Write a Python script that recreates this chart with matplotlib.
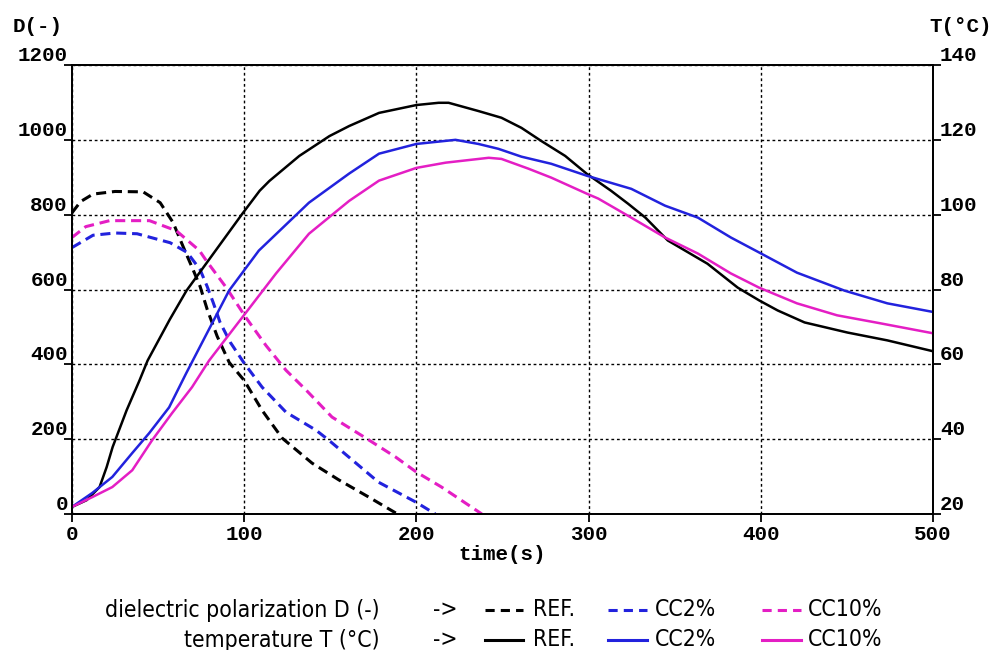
import matplotlib
matplotlib.use("Agg")
import matplotlib.pyplot as plt
from matplotlib.lines import Line2D

# ---------------- data ----------------
t_T_ref = [0, 8.5, 16, 20.1, 23.6, 31.7, 39.2, 43.9, 56.8, 66.5, 99, 109, 114.6, 132, 149.5, 161, 178.3, 200,
           212.9, 218.7, 236, 249.4, 261, 272.5, 286.4, 299, 313, 323, 333, 346, 369, 386.6, 399,
           409.8, 425.4, 450.3, 473.5, 500]
T_ref = [21.9, 23.7, 27.2, 32.5, 37.9, 47.7, 55.7, 61, 72, 79.7, 100.3, 106.4, 109, 115.7, 121, 123.7, 127.2, 129.3,
         129.9, 129.9, 127.7, 125.9, 123.2, 119.7, 115.7, 110.9, 106.4, 102.9, 99.2, 93.1, 86.9, 80.5, 77.1,
         74.4, 71.2, 68.5, 66.4, 63.5]

t_T_cc2 = [0, 11.7, 23.4, 35, 44.8, 56.4, 66.3, 91.2, 108.5, 137.6, 161, 178.3, 200, 222.7, 236, 247.6,
           261, 278.3, 299, 324.8, 344.4, 363.5, 382.6, 399, 421, 448.6, 473.5, 500]
T_cc2 = [21.9, 25.6, 29.9, 36.3, 41.6, 48.5, 57.6, 79.7, 90.4, 103.2, 111, 116.3, 118.9, 120, 118.9, 117.6,
         115.5, 113.6, 110.4, 106.9, 102.4, 99.2, 93.9, 89.9, 84.5, 79.7, 76.3, 74]

t_T_cc10 = [0, 11.7, 23.4, 35, 46.5, 58, 69.7, 79.6, 98.8, 118.5, 137.6, 161, 178.3, 200, 217, 242, 249.4,
            265, 278.3, 299, 305.6, 324.8, 344.4, 363.5, 382.6, 399, 421, 444.3, 469, 500]
T_cc10 = [21.9, 24.5, 27.2, 31.7, 39.7, 46.9, 53.9, 61, 72.5, 84.3, 94.9, 103.7, 109.1, 112.5, 113.9, 115.2,
          114.9, 112.3, 109.9, 105.6, 104.3, 99.2, 93.9, 89.6, 84.3, 80.5, 76.3, 73.1, 71, 68.3]

t_D_ref = [0, 5, 12.2, 25, 41.3, 51.2, 58.7, 64.5, 70.3, 74.4, 78.5, 84.3, 91.3, 100, 110.4, 122, 139.4,
           155, 172.4, 189]
D_ref = [805, 835, 855, 862, 861, 832, 779, 715, 653, 608, 547, 475, 405, 357, 277, 203, 136, 91, 45, 0]

t_D_cc2 = [0, 12.2, 25, 37.8, 57, 66.9, 74.4, 78.5, 82, 86, 91.9, 100, 110.4, 124.3, 141.7, 149.2, 160.8,
           178, 199.6, 211]
D_cc2 = [712, 745, 751, 749, 725, 699, 653, 608, 565, 512, 459, 403, 339, 272, 224, 197, 152, 85, 32, 0]

t_D_cc10 = [0, 8, 21.8, 45, 60.6, 74, 78, 89.6, 101, 112.7, 124.3, 136, 151, 170.6, 188, 200, 214.6, 238]
D_cc10 = [739, 768, 784, 784, 757, 704, 677, 605, 525, 450, 384, 331, 259, 203, 152, 112, 72, 0]

x_ticks = [0, 100, 200, 300, 400, 500]
D_ticks = [0, 200, 400, 600, 800, 1000, 1200]
T_ticks = [20, 40, 60, 80, 100, 120, 140]

BLACK = "#000000"
BLUE = "#2222dd"
MAGENTA = "#e41ec4"

W, H = 993, 650
fig = plt.figure(figsize=(W / 100, H / 100), dpi=100)
fig.patch.set_facecolor("white")

def px(x, y):
    return x / W, 1 - y / H

x0, x1, y0, y1 = 72, 933, 514, 65
ax = fig.add_axes([x0 / W, 1 - y0 / H, (x1 - x0) / W, (y0 - y1) / H])
ax2 = ax.twinx()

ax.set_xlim(0, 500)
ax.set_ylim(0, 1200)
ax2.set_ylim(20, 140)

mono = dict(family=["Liberation Mono", "DejaVu Sans Mono"], size=15, weight="bold")

for a in (ax, ax2):
    for s in a.spines.values():
        s.set_linewidth(1.3)
        s.set_color("black")

ax.set_xticks(x_ticks)
ax.set_xticklabels([str(v) for v in x_ticks], fontdict=mono)
ax.set_yticks(D_ticks)
ax.set_yticklabels([str(v) for v in D_ticks], fontdict=mono, va="bottom")
ax2.set_yticks(T_ticks)
ax2.set_yticklabels([str(v) for v in T_ticks], fontdict=mono, va="bottom")

ax.tick_params(axis="x", direction="out", length=6, width=1.3, pad=2)
ax.tick_params(axis="y", direction="out", length=6, width=1.3, pad=-3)
ax2.tick_params(axis="y", direction="out", length=6, width=1.3, pad=-1)

ax.grid(True, color="black", linestyle=(0, (2, 2)), linewidth=1.0)
ax.set_axisbelow(True)

lw_s = 1.8
lw_d = 2.2
ax2.plot(t_T_ref, T_ref, color=BLACK, lw=lw_s)
ax2.plot(t_T_cc2, T_cc2, color=BLUE, lw=lw_s)
ax2.plot(t_T_cc10, T_cc10, color=MAGENTA, lw=lw_s)
ax.plot(t_D_ref, D_ref, color=BLACK, lw=lw_d, dashes=(3.3, 1.9))
ax.plot(t_D_cc2, D_cc2, color=BLUE, lw=lw_d, dashes=(3.3, 1.9))
ax.plot(t_D_cc10, D_cc10, color=MAGENTA, lw=lw_d, dashes=(3.3, 1.9))

# axis titles
fig.text(*px(13, 27), "D(-)", ha="left", va="center", fontdict=mono)
fig.text(*px(992, 27), "T(°C)", ha="right", va="center", fontdict=mono)
ax.set_xlabel("time(s)", fontdict=mono)
ax.xaxis.set_label_coords(0.5, -0.068)

# legend
sans = dict(family=["DejaVu Sans"], size=16.5, stretch="condensed")
rows = [("dielectric polarization D (-)", (0, (3.0, 2.0))), ("temperature T (°C)", "-")]
row_y = [610, 640]
for (label, ls), yy in zip(rows, row_y):
    fig.text(*px(380, yy), label, ha="right", va="center", **sans)
    fig.text(*px(445, yy), "->", ha="center", va="center", **sans)
    for (xa, xb, xt, col, name) in [(485, 523, 533, "black", "REF."),
                                    (608, 647, 655, BLUE, "CC2%"),
                                    (762, 801, 808, MAGENTA, "CC10%")]:
        fig.add_artist(Line2D([xa / W, xb / W], [1 - yy / H, 1 - yy / H], transform=fig.transFigure,
                              color=col, lw=2.2, linestyle=ls))
        fig.text(*px(xt, yy), name, ha="left", va="center", **sans)

fig.savefig("out.png", dpi=100, facecolor="white")
